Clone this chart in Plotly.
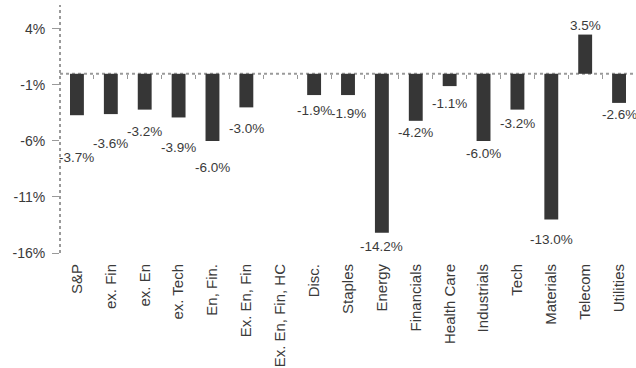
import plotly.graph_objects as go

# Sector and aggregate returns (%)
categories = ["S&P", "ex. Fin", "ex. En", "ex. Tech", "En, Fin.", "Ex. En, Fin",
              "Ex. En, Fin, HC", "Disc.", "Staples", "Energy", "Financials",
              "Health Care", "Industrials", "Tech", "Materials", "Telecom", "Utilities"]
returns = [-3.7, -3.6, -3.2, -3.9, -6.0, -3.0,
           None, -1.9, -1.9, -14.2, -4.2,
           -1.1, -6.0, -3.2, -13.0, 3.5, -2.6]
y_ticks = [4, -1, -6, -11, -16]

# Vertical offsets (px) of the value labels from the bar ends
label_shift = [42, 29, 22, 30, 27, 21, 0, 15, 18, 14, 12, 17, 13, 14, 20, 9, 12]

Y_MIN, Y_MAX = -16, 6.14
FONT = "Liberation Sans, Arial, sans-serif"
AXIS_GREY = "#9a9a9a"
TEXT = "#3a3a3a"

fig = go.Figure()
fig.add_trace(go.Bar(
    x=categories, y=returns,
    marker=dict(color="#363636", line=dict(width=0)),
    hoverinfo="x+y",
))

# Value labels beneath (or above) each bar
for cat, val, sh in zip(categories, returns, label_shift):
    if val is None:
        continue
    fig.add_annotation(
        x=cat, y=val, text=f"{val:.1f}%", showarrow=False,
        yshift=sh if val > 0 else -sh,
        font=dict(family=FONT, size=13.5, color=TEXT),
    )

zero_frac = (0 - Y_MIN) / (Y_MAX - Y_MIN)

fig.update_layout(
    width=636, height=368,
    margin=dict(l=60, r=0, t=5, b=115),
    paper_bgcolor="white", plot_bgcolor="white",
    showlegend=False,
    bargap=0.59,
    font=dict(family=FONT, size=14, color=TEXT),
    xaxis=dict(
        range=[-0.5, 16.5], showline=False, showgrid=False, zeroline=False,
        ticks="", tickangle=-90, ticklabelstandoff=7,
        tickfont=dict(size=15, color=TEXT),
    ),
    xaxis2=dict(
        overlaying="x", anchor="free", position=zero_frac, side="bottom",
        range=[-0.5, 16.5], showline=False, showgrid=False, zeroline=False,
        tickmode="array", tickvals=[i + 0.5 for i in range(16)],
        ticktext=[""] * 16, ticks="outside", ticklen=4, tickwidth=1,
        tickcolor=AXIS_GREY, showticklabels=False,
    ),
    yaxis=dict(
        range=[Y_MIN, Y_MAX], tickmode="array", tickvals=y_ticks,
        ticktext=[f"{t}%" for t in y_ticks],
        showgrid=False, zeroline=False, showline=False,
        ticks="outside", ticklen=7, tickwidth=1, tickcolor=AXIS_GREY,
        ticklabelstandoff=4,
        tickfont=dict(size=14, color=TEXT),
    ),
    shapes=[
        # dotted horizontal axis at zero
        dict(type="line", xref="paper", yref="y", x0=0, x1=1, y0=0, y1=0,
             line=dict(color=AXIS_GREY, width=2, dash="dot"), layer="below"),
        # dotted vertical value axis
        dict(type="line", xref="paper", yref="paper", x0=0, x1=0, y0=0, y1=1,
             line=dict(color=AXIS_GREY, width=2, dash="dot")),
    ],
)

# invisible trace so the tick-only axis at zero is drawn
fig.add_trace(go.Scatter(x=[0], y=[0], xaxis="x2", mode="markers",
                         marker=dict(opacity=0), hoverinfo="skip"))

fig.write_html("out.html")
